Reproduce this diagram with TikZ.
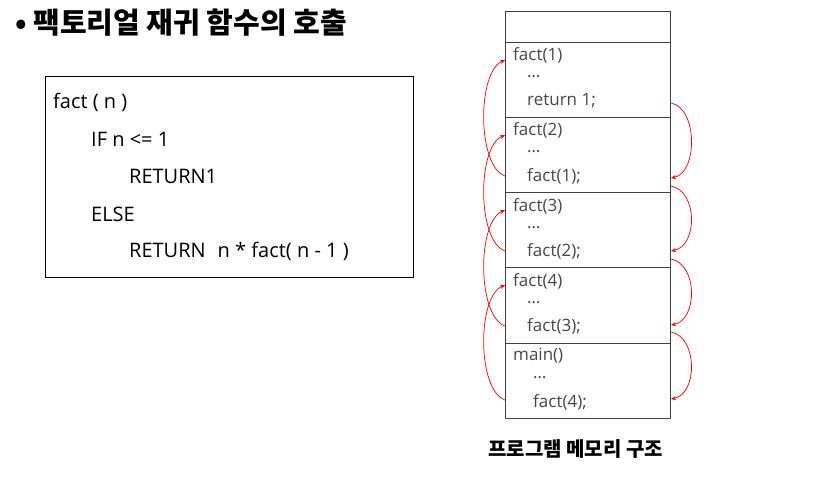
\documentclass[tikz,border=0pt]{standalone}
\usepackage{fontspec}
\setmainfont{Open Sans}
\newfontfamily\kr{Noto Sans CJK KR}
\usetikzlibrary{arrows.meta}
\begin{document}
\begin{tikzpicture}[x=1pt,y=-1pt,
  codetxt/.style={anchor=west,inner sep=0pt,font=\fontsize{20}{23}\selectfont},
  stktxt/.style={anchor=west,inner sep=0pt,text=black!72,font=\fontsize{17}{20}\selectfont},
  frame/.style={draw=black!75,line width=0.9pt,minimum width=165pt,inner sep=0pt,anchor=north west},
  callarr/.style={red,line width=0.7pt,-{Stealth[length=5pt,width=4pt]}}]
\useasboundingbox (0,0) rectangle (826,483);
% title
\node[anchor=west,inner sep=0pt,font=\kr\bfseries\fontsize{29}{32}\selectfont] (title) at (15,23) {• 팩토리얼 재귀 함수의 호출};
% code box
\node[draw,line width=0.8pt,minimum width=368pt,minimum height=201pt,anchor=north west,inner sep=0pt] (code) at (45,76) {};
\node[codetxt] (c1) at (53,102) {fact ( n )};
\node[codetxt] (c2) at (91,139) {IF n <= 1};
\node[codetxt] (c3) at (129,176) {RETURN1};
\node[codetxt] (c4) at (91,214) {ELSE};
\node[codetxt] (c5) at (129,251) {RETURN\hspace{12pt}n * fact( n - 1 )};
% stack
\node[frame,minimum height=31pt] (f0) at (505,11) {};
\node[frame,minimum height=75pt] (f1) at (505,42) {};
\node[frame,minimum height=75pt] (f2) at (505,117) {};
\node[frame,minimum height=75pt] (f3) at (505,192) {};
\node[frame,minimum height=76pt] (f4) at (505,267) {};
\node[frame,minimum height=75pt] (f5) at (505,343) {};
% frame texts
\node[stktxt] (t1) at (513,55) {fact(1)};
\node[stktxt] (d1) at (527,77) {…};
\node[stktxt] (r1) at (527,101) {return 1;};
\node[stktxt] (t2) at (513,130) {fact(2)};
\node[stktxt] (d2) at (527,152) {…};
\node[stktxt] (r2) at (527,176) {fact(1);};
\node[stktxt] (t3) at (513,206) {fact(3)};
\node[stktxt] (d3) at (527,228) {…};
\node[stktxt] (r3) at (527,251) {fact(2);};
\node[stktxt] (t4) at (513,281) {fact(4)};
\node[stktxt] (d4) at (527,303) {…};
\node[stktxt] (r4) at (527,326) {fact(3);};
\node[stktxt] (t5) at (513,356) {main()};
\node[stktxt] (d5) at (533,378) {…};
\node[stktxt] (r5) at (533,402) {fact(4);};
% caption
\node[anchor=west,inner sep=0pt,font=\kr\bfseries\fontsize{20}{23}\selectfont] (cap) at (488,449) {프로그램 메모리 구조};
% call arrows (left)
\coordinate (la1) at (f2.west |- 0,176); \coordinate (lb1) at (f1.west |- 0,60);
\coordinate (la2) at (f3.west |- 0,251); \coordinate (lb2) at (f2.west |- 0,135);
\coordinate (la3) at (f4.west |- 0,326); \coordinate (lb3) at (f3.west |- 0,210);
\coordinate (la4) at (f5.west |- 0,400); \coordinate (lb4) at (f4.west |- 0,285);
\foreach \i in {1,...,4}{
  \draw[callarr] (la\i) .. controls ++(-28,-10) and ++(-28,12) .. (lb\i);
}
% return arrows (right)
\coordinate (ra1) at (f1.east |- 0,103); \coordinate (rb1) at (f2.east |- 0,178);
\coordinate (ra2) at (f2.east |- 0,186); \coordinate (rb2) at (f3.east |- 0,251);
\coordinate (ra3) at (f3.east |- 0,259); \coordinate (rb3) at (f4.east |- 0,325);
\coordinate (ra4) at (f4.east |- 0,332); \coordinate (rb4) at (f5.east |- 0,399);
\foreach \i in {1,...,4}{
  \draw[callarr] (ra\i) .. controls ++(27,5) and ++(27,-5) .. (rb\i);
}
\end{tikzpicture}
\end{document}
